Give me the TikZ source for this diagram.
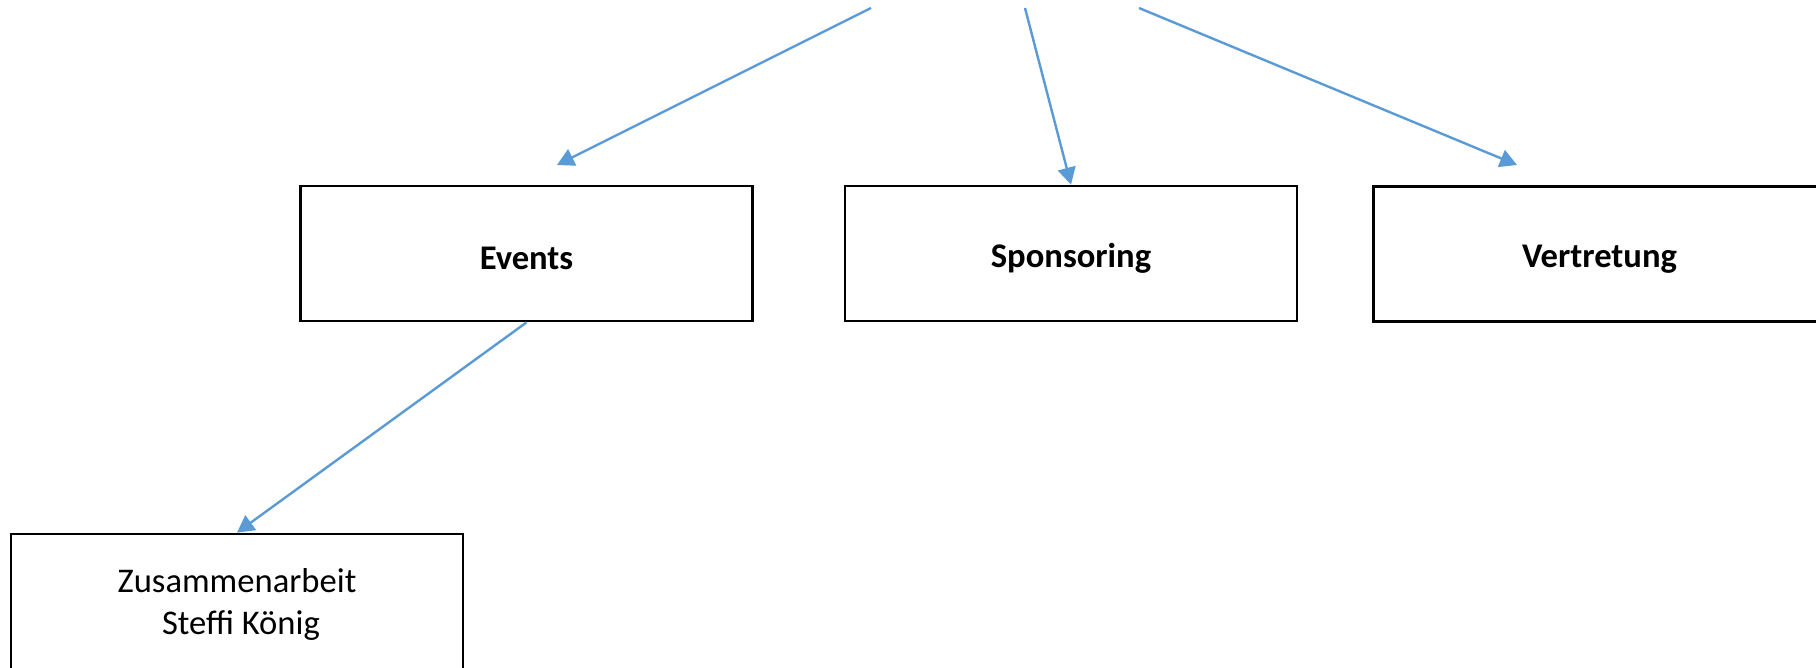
\documentclass[tikz,border=0pt]{standalone}
\usepackage{fontspec}
\setmainfont{Carlito}
\usetikzlibrary{arrows.meta}
\definecolor{arrowblue}{HTML}{5B9BD5}
\newcommand{\dropit}[2]{\raisebox{-#1}[\height][\depth]{#2}}
\begin{document}
\begin{tikzpicture}[x=0.5pt,y=-0.5pt,
  box/.style={draw=black,line width=1.4pt,minimum width=226pt,minimum height=67.5pt,inner sep=0pt,align=center,font=\fontsize{17.3}{20.5}\selectfont},
  conn/.style={draw=arrowblue,line width=1.2pt,-{Triangle[length=8.5pt,width=9pt]}}]
\useasboundingbox (0,0) rectangle (1816,668);
\fill[white] (0,0) rectangle (1816,668);
\node[box] (events) at (526.5,253.5) {\dropit{2.5pt}{\bfseries Events}};
\node[box] (spons) at (1071,253.5) {\dropit{2.5pt}{\bfseries Sponsoring}};
\node[box] (vert) at (1599.5,254) {\dropit{2.5pt}{\bfseries Vertretung}};
\node[box] (zus) at (237,601.5) {\dropit{2pt}{\begin{tabular}{@{}c@{}}Zusammenarbeit\\[0.5pt] \ Steffi König\end{tabular}}};
\coordinate (s1) at (871,8);
\coordinate (s2) at (1025,8);
\coordinate (s3) at (1139,8);
\coordinate (t1) at (557,165);
\coordinate (t3) at (1517,165);
\draw[conn] (s1) -- (t1);
\draw[conn] (s2) -- (spons.north -| 1071,0);
\draw[conn] (s3) -- (t3);
\draw[conn] (events.south) -- (zus.north);
\end{tikzpicture}
\end{document}
